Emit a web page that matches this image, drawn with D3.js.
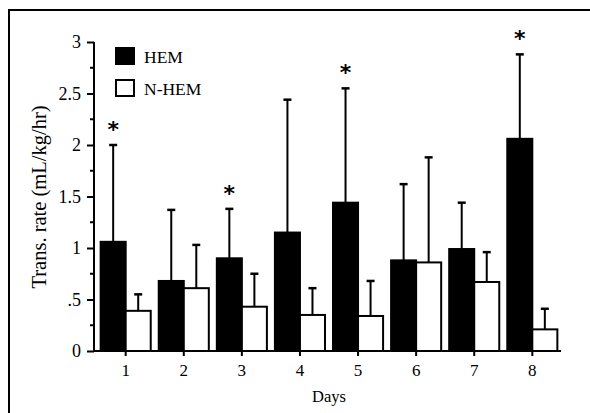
<!DOCTYPE html>
<html>
<head>
<meta charset="utf-8">
<script src="https://cdn.jsdelivr.net/npm/d3@7"></script>
<style>
  body { margin: 0; background: #fff; }
  svg text { font-family: "Liberation Serif", "Times New Roman", serif; fill: #000; }
</style>
</head>
<body>
<div id="chart"></div>
<script>
const days = ['1', '2', '3', '4', '5', '6', '7', '8'];
const hemMean = [1.06, 0.68, 0.90, 1.15, 1.44, 0.88, 0.99, 2.06];
const hemErr = [2.00, 1.37, 1.38, 2.44, 2.55, 1.62, 1.44, 2.88];
const nhemMean = [0.39, 0.61, 0.43, 0.35, 0.34, 0.86, 0.67, 0.21];
const nhemErr = [0.55, 1.03, 0.75, 0.61, 0.68, 1.88, 0.96, 0.41];
const starred = ['1', '3', '5', '8'];
const yTicks = [0, 0.5, 1, 1.5, 2, 2.5, 3];
const yTickLabels = ['0', '.5', '1', '1.5', '2', '2.5', '3'];

const width = 590;
const height = 413;

let svg = d3.select('#chart')
  .append('svg')
  .attr('width', width)
  .attr('height', height);

// Outer frame (only top and left edges show in the figure).
svg.append('path')
  .attr('d', `M9,${height + 5}V10H${width + 5}`)
  .attr('fill', 'none')
  .attr('stroke', '#000')
  .attr('stroke-width', 2);

let x = d3.scaleBand().domain(days).range([96, 562]).paddingInner(0.138).paddingOuter(0.08);
let y = d3.scaleLinear().domain([0, 3]).range([351, 42]);

const bw = x.bandwidth() / 2;

// Y axis with minor ticks.
let yAxis = d3.axisLeft(y)
  .tickValues(yTicks)
  .tickSize(7)
  .tickPadding(6)
  .tickFormat((d, i) => yTickLabels[i]);

let gy = svg.append('g')
  .attr('transform', 'translate(94,0)')
  .call(yAxis);
gy.select('.domain').attr('stroke-width', 2).attr('d', `M0,${y(3)}V${y(0)}`);
gy.selectAll('.tick line').attr('stroke-width', 2);
gy.selectAll('.tick text').style('font-size', '18px');

gy.selectAll('line.minor')
  .data(d3.range(0.25, 3, 0.5))
  .enter()
  .append('line')
    .attr('class', 'minor')
    .attr('x1', -4)
    .attr('x2', 0)
    .attr('y1', d => y(d))
    .attr('y2', d => y(d))
    .attr('stroke', '#000')
    .attr('stroke-width', 2);

// X axis.
let xAxis = d3.axisBottom(x)
  .tickSize(5)
  .tickPadding(8)
  .tickSizeOuter(0);

let gx = svg.append('g')
  .attr('transform', `translate(0,${y(0)})`)
  .call(xAxis);
gx.select('.domain').attr('stroke-width', 2).attr('d', `M93,0H561`);
gx.selectAll('.tick line').attr('stroke-width', 2);
gx.selectAll('.tick text').style('font-size', '17px');

// Bars and error bars.
let series = [
  { mean: hemMean, err: hemErr, fill: '#000', off: 0 },
  { mean: nhemMean, err: nhemErr, fill: '#fff', off: bw }
];

for (let s of series) {
  let g = svg.append('g');
  g.selectAll('line.err')
    .data(days)
    .enter()
    .append('line')
      .attr('x1', (d, i) => x(d) + s.off + bw / 2)
      .attr('x2', (d, i) => x(d) + s.off + bw / 2)
      .attr('y1', (d, i) => y(s.mean[i]))
      .attr('y2', (d, i) => y(s.err[i]))
      .attr('stroke', '#000')
      .attr('stroke-width', 2);
  g.selectAll('line.cap')
    .data(days)
    .enter()
    .append('line')
      .attr('x1', (d, i) => x(d) + s.off + bw / 2 - 4)
      .attr('x2', (d, i) => x(d) + s.off + bw / 2 + 4)
      .attr('y1', (d, i) => y(s.err[i]))
      .attr('y2', (d, i) => y(s.err[i]))
      .attr('stroke', '#000')
      .attr('stroke-width', 2.5);
  g.selectAll('rect')
    .data(days)
    .enter()
    .append('rect')
      .attr('x', d => x(d) + s.off)
      .attr('y', (d, i) => y(s.mean[i]))
      .attr('width', bw)
      .attr('height', (d, i) => y(0) - y(s.mean[i]))
      .attr('fill', s.fill)
      .attr('stroke', '#000')
      .attr('stroke-width', 2);
}

// Significance stars above HEM error bars.
svg.selectAll('text.star')
  .data(starred)
  .enter()
  .append('text')
    .attr('class', 'star')
    .attr('x', d => x(d) + bw / 2)
    .attr('y', d => y(hemErr[days.indexOf(d)]) - 8)
    .attr('text-anchor', 'middle')
    .style('font-family', '"DejaVu Sans", sans-serif')
    .style('font-size', '22px')
    .style('font-weight', 'bold')
    .text('*');

// Legend.
let legend = [['HEM', '#000'], ['N-HEM', '#fff']];
let lg = svg.append('g');
lg.selectAll('rect')
  .data(legend)
  .enter()
  .append('rect')
    .attr('x', 116)
    .attr('y', (d, i) => 48 + i * 32)
    .attr('width', 18)
    .attr('height', 16)
    .attr('fill', d => d[1])
    .attr('stroke', '#000')
    .attr('stroke-width', 2);
lg.selectAll('text')
  .data(legend)
  .enter()
  .append('text')
    .attr('x', 144)
    .attr('y', (d, i) => 63 + i * 32)
    .style('font-size', '17.5px')
    .text(d => d[0]);

// Axis titles.
svg.append('text')
  .attr('transform', 'translate(46,197) rotate(-90)')
  .attr('text-anchor', 'middle')
  .style('font-size', '20.5px')
  .text('Trans. rate (mL/kg/hr)');

svg.append('text')
  .attr('x', 329)
  .attr('y', 402)
  .attr('text-anchor', 'middle')
  .style('font-size', '16.5px')
  .text('Days');
</script>
</body>
</html>
